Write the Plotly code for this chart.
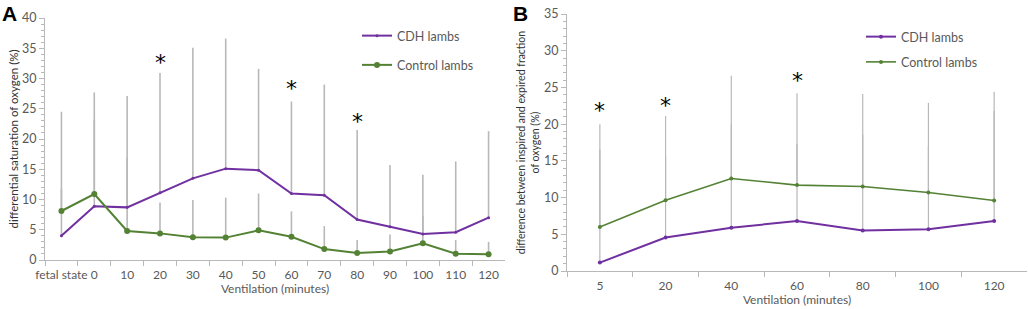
import plotly.graph_objects as go

# ---------------- Panel A data ----------------
cats_a = ["fetal state", "0", "10", "20", "30", "40", "50", "60", "70", "80", "90", "100", "110", "120"]
cdh_a = [4.0, 8.9, 8.7, 11.1, 13.5, 15.1, 14.85, 11.0, 10.7, 6.7, 5.5, 4.3, 4.6, 7.0]
cdh_a_sd = [20.5, 18.8, 18.4, 19.8, 21.6, 21.5, 16.75, 15.2, 18.3, 14.8, 10.2, 9.8, 11.7, 14.3]
ctrl_a = [8.1, 10.9, 4.8, 4.4, 3.75, 3.7, 4.9, 3.85, 1.8, 1.15, 1.4, 2.75, 1.05, 0.95]
ctrl_a_sd = [3.6, 12.3, 12.2, 5.1, 6.15, 6.6, 6.1, 4.2, 3.8, 2.15, 2.8, 4.55, 2.25, 2.05]
stars_a_x = ["20", "60", "80"]
stars_a_y = [32.7, 28.4, 22.9]

# ---------------- Panel B data ----------------
cats_b = ["5", "20", "40", "60", "80", "100", "120"]
cdh_b = [1.15, 4.55, 5.9, 6.8, 5.5, 5.7, 6.8]
cdh_b_sd = [15.35, 11.0, 14.1, 10.5, 13.1, 11.3, 15.0]
ctrl_b = [6.0, 9.65, 12.6, 11.7, 11.5, 10.7, 9.6]
ctrl_b_sd = [14.0, 11.45, 14.0, 12.5, 12.6, 12.2, 14.8]
stars_b_x = ["5", "20", "60"]
stars_b_y = [21.9, 22.5, 25.9]

PURPLE = "#7030a0"
GREEN = "#548235"
GRAY = "#b8b8b8"
TXT = "#595959"
FONT = "Lato"

fig = go.Figure()


def err_trace(x, y, sd, xa, ya, width):
    return go.Scatter(
        x=x, y=y, mode="markers", marker=dict(size=1, opacity=0),
        error_y=dict(type="data", array=sd, arrayminus=[0] * len(sd), symmetric=False,
                     color=GRAY, thickness=width, width=0),
        xaxis=xa, yaxis=ya, showlegend=False, hoverinfo="skip")


# error bars first (behind lines)
fig.add_trace(err_trace(cats_a, cdh_a, cdh_a_sd, "x", "y", 1.6))
fig.add_trace(err_trace(cats_a, ctrl_a, ctrl_a_sd, "x", "y", 1.6))
fig.add_trace(err_trace(cats_b, cdh_b, cdh_b_sd, "x2", "y2", 1.2))
fig.add_trace(err_trace(cats_b, ctrl_b, ctrl_b_sd, "x2", "y2", 1.2))

# lines
fig.add_trace(go.Scatter(x=cats_a, y=cdh_a, name="CDH lambs", mode="lines+markers",
                         line=dict(color=PURPLE, width=2), marker=dict(size=3, color=PURPLE),
                         xaxis="x", yaxis="y", legend="legend", legendgroup="a1"))
fig.add_trace(go.Scatter(x=cats_a, y=ctrl_a, name="Control lambs", mode="lines+markers",
                         line=dict(color=GREEN, width=2), marker=dict(size=6, color=GREEN),
                         xaxis="x", yaxis="y", legend="legend", legendgroup="a2"))
fig.add_trace(go.Scatter(x=cats_b, y=cdh_b, name="CDH lambs", mode="lines+markers",
                         line=dict(color=PURPLE, width=2), marker=dict(size=4, color=PURPLE),
                         xaxis="x2", yaxis="y2", legend="legend2", legendgroup="b1"))
fig.add_trace(go.Scatter(x=cats_b, y=ctrl_b, name="Control lambs", mode="lines+markers",
                         line=dict(color=GREEN, width=1.6), marker=dict(size=4, color=GREEN),
                         xaxis="x2", yaxis="y2", legend="legend2", legendgroup="b2"))

annotations = []
for sx, sy in zip(stars_a_x, stars_a_y):
    annotations.append(dict(x=cats_a.index(sx), y=sy, xref="x", yref="y", text="*", showarrow=False,
                            font=dict(size=22, color="black", family="DejaVu Sans")))
for sx, sy in zip(stars_b_x, stars_b_y):
    annotations.append(dict(x=cats_b.index(sx), y=sy, xref="x2", yref="y2", text="*", showarrow=False,
                            font=dict(size=22, color="black", family="DejaVu Sans")))
annotations.append(dict(x=0.0, y=1.0, xref="paper", yref="paper", xanchor="left", yanchor="top",
                        text="<b>A</b>", showarrow=False, font=dict(size=21, color="black", family="Liberation Sans")))
annotations.append(dict(x=0.497, y=1.0, xref="paper", yref="paper", xanchor="left", yanchor="top",
                        text="<b>B</b>", showarrow=False, font=dict(size=21, color="black", family="Liberation Sans")))

xaxis_common = dict(type="category", tickson="boundaries", ticks="outside", ticklen=5,
                    tickcolor=GRAY, showline=True, linecolor=GRAY, linewidth=1.2, tickangle=0,
                    showgrid=False, zeroline=False, tickfont=dict(size=12, color=TXT, family=FONT),
                    ticklabelstandoff=3,
                    title_font=dict(size=12, color=TXT, family=FONT), title_standoff=0,
                    automargin=False)
yaxis_common = dict(ticks="outside", ticklen=5, tickcolor=GRAY, showline=True, linecolor=GRAY,
                    linewidth=1.2, showgrid=False, zeroline=False, dtick=5,
                    minor=dict(dtick=1, ticks="outside", ticklen=3, tickcolor=GRAY),
                    tickfont=dict(size=12.5, color=TXT, family=FONT), automargin=False)

fig.update_layout(
    width=1028, height=309,
    margin=dict(l=0, r=0, t=0, b=0, autoexpand=False),
    paper_bgcolor="white", plot_bgcolor="white",
    xaxis=dict(xaxis_common, domain=[45 / 1028, 505 / 1028], range=[-0.5, 13.5],
               anchor="y", title_text="Ventilation (minutes)"),
    yaxis=dict(yaxis_common, domain=[49 / 309, 291 / 309], range=[0, 40], anchor="x",
               title_text="differential saturation of oxygen (%)", title_standoff=0,
               title_font=dict(size=11.5, color="#333333", family=FONT)),
    xaxis2=dict(xaxis_common, domain=[567 / 1028, 1027 / 1028], range=[-0.5, 6.5],
                anchor="y2", title_text="Ventilation (minutes)"),
    yaxis2=dict(yaxis_common, domain=[38 / 309, 295 / 309], range=[0, 35], anchor="x2",
                title_text="difference between inspired and expired fraction<br>of oxygen (%)",
                title_standoff=2, title_font=dict(size=10.5, color="#333333", family=FONT)),
    legend=dict(x=357 / 1028, y=1 - 21 / 309, xanchor="left", yanchor="top",
                font=dict(size=12.5, color=TXT, family=FONT), bgcolor="rgba(0,0,0,0)",
                tracegroupgap=10, itemwidth=30),
    legend2=dict(x=861 / 1028, y=1 - 22 / 309, xanchor="left", yanchor="top",
                 font=dict(size=12.5, color=TXT, family=FONT), bgcolor="rgba(0,0,0,0)",
                 tracegroupgap=6, itemwidth=30),
    annotations=annotations,
    showlegend=True,
)

fig.write_html("out.html", config={"displayModeBar": False},
               post_script="document.body.style.margin='0';")
